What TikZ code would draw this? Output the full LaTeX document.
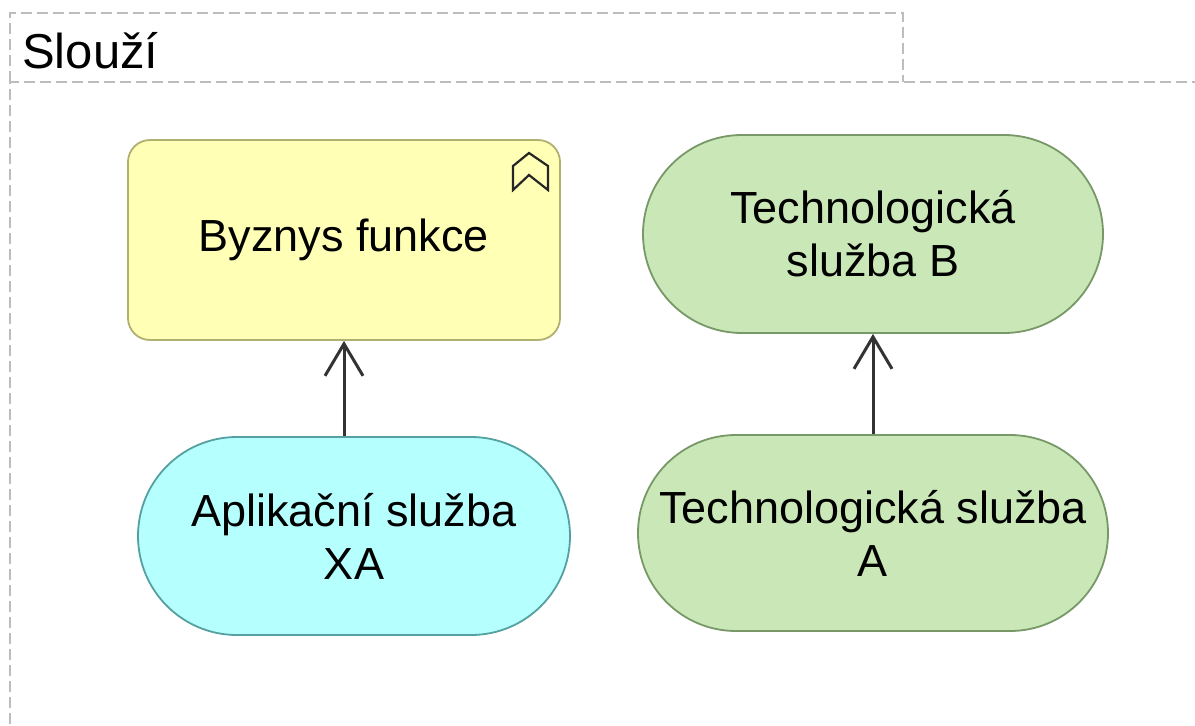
\documentclass[tikz,border=0pt]{standalone}
\usepackage{fontspec}
\setmainfont{Liberation Sans}
\usetikzlibrary{shapes.misc,arrows.meta}
\definecolor{frameGray}{HTML}{BDBDBD}
\definecolor{bizFill}{HTML}{FFFFB5}
\definecolor{bizLine}{HTML}{B0B070}
\definecolor{appFill}{HTML}{B5FFFF}
\definecolor{appLine}{HTML}{55A0A0}
\definecolor{techFill}{HTML}{C9E7B7}
\definecolor{techLine}{HTML}{789868}
\tikzset{
  framestyle/.style={draw=frameGray, line width=2.4pt, dash pattern=on 11pt off 5pt},
  lbl/.style={font=\fontsize{45}{53}\selectfont, align=center, text=black},
  bizbox/.style={lbl, rectangle, rounded corners=22pt, draw=bizLine, fill=bizFill, line width=1.8pt},
  stadium/.style={lbl, rounded rectangle, rounded rectangle arc length=180, line width=1.8pt, inner sep=0pt},
  appsvc/.style={stadium, draw=appLine, fill=appFill},
  techsvc/.style={stadium, draw=techLine, fill=techFill},
  serves/.style={draw=black!80, line width=3pt, -{Straight Barb[length=32pt, width=38pt, line width=3pt]}}
}
\begin{document}
\begin{tikzpicture}[x=1pt, y=-1pt]
\useasboundingbox (0,0) rectangle (1195,726);
\fill[white] (0,0) rectangle (1195,726);
% group frame
\draw[framestyle] (10,82) -- (10,13) -- (903,13) -- (903,82);
\draw[framestyle] (10,740) -- (10,82) -- (1210,82);
\node[anchor=base west, font=\fontsize{49}{56}\selectfont, inner sep=0pt] (title) at (22,68) {Slouží};
% elements
\node[bizbox, minimum width=432pt, minimum height=200pt] (byz) at (344,240) {Byznys funkce};
\node[techsvc, minimum width=460pt, minimum height=198pt] (techB) at (873,234) {Technologická\\služba B};
\node[appsvc, minimum width=432pt, minimum height=198pt] (app) at (354,536) {Aplikační služba\\XA};
\node[techsvc, minimum width=470pt, minimum height=196pt] (techA) at (873,533) {Technologická služba\\A};
% function icon
\draw[line width=2.2pt, line join=miter, black!85] (513,190) -- (513,166) -- (529,153) -- (548,166) -- (548,190) -- (529,175) -- cycle;
% serving relations
\draw[serves] (byz.south |- app.north) -- (byz.south);
\draw[serves] (techA.north) -- (techB.south);
\end{tikzpicture}
\end{document}
